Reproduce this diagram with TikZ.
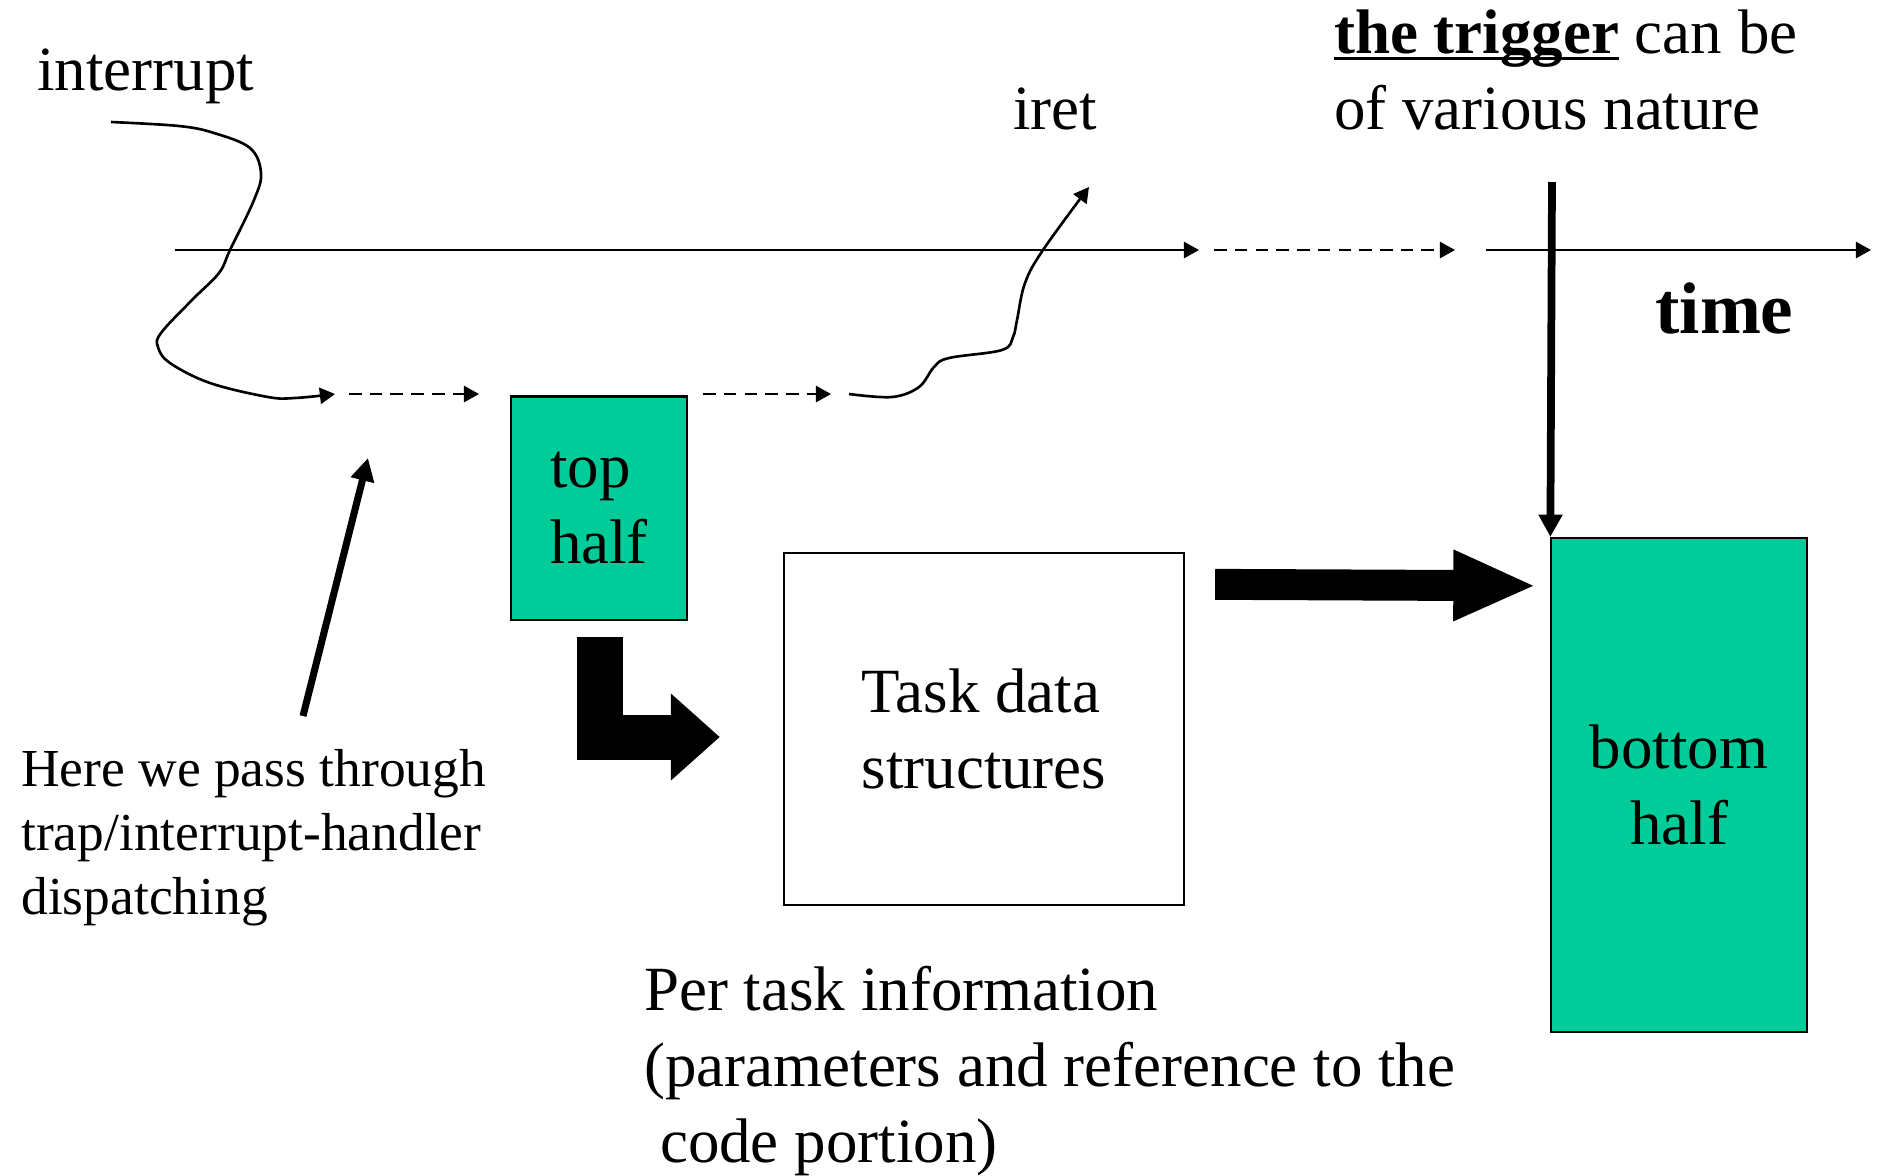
\documentclass[tikz,border=0pt]{standalone}
\usepackage{fontspec}
\setmainfont{Liberation Serif}
\usetikzlibrary{arrows.meta,calc}
\definecolor{halfgreen}{RGB}{0,204,153}
% bold text with a low underline
\newcommand\trigul[1]{\setbox0\hbox{\textbf{#1}}\rlap{\rule[-0.11em]{\wd0}{0.05em}}\box0\relax}

\begin{document}
\begin{tikzpicture}[x=0.01cm, y=-0.01cm, line width=0.75pt, >={Triangle[length=4.3pt,width=4.6pt]},
	big/.style={font=\fontsize{17.9}{21.5}\selectfont},
	txt/.style={big, inner sep=0pt, anchor=base west, align=left},
	halfbox/.style={big, draw, line width=0.6pt, fill=halfgreen, inner sep=0pt},
	dashline/.style={->, dash pattern=on 3.6pt off 2.3pt},
	fat/.style={line width=#1, line join=miter}]
	\useasboundingbox (0,0) rectangle (1878,1175);
	\path (175,250) coordinate (T0) (1199,250) coordinate (T1) (1214,250) coordinate (T2)
	(1455,250) coordinate (T3) (1486,250) coordinate (T4) (1871,250) coordinate (T5)
	(1552,182) coordinate (trig);
	% boxes
	\node[halfbox, minimum width=1.76cm, minimum height=2.23cm, align=left] (tophalf) at (599,508) {top\\half};
	\node[big, draw, line width=0.6pt, minimum width=4cm, minimum height=3.51cm, align=left] (taskdata) at (984,729) {Task data\\structures};
	\node[halfbox, minimum width=2.55cm, minimum height=4.94cm, align=center] (bottomhalf) at (1679,785) {bottom\\ half};
	% labels (base = last line)
	\node[txt] (intr) at (36,90) {interrupt};
	\node[txt] (iret) at (1012,129) {iret};
	\node[txt] (trigger) at (1333,129) {\trigul{the trigger} can be\\of various nature};
	\node[txt, font=\fontsize{20.8}{25}\selectfont\bfseries] (timelbl) at (1654,333) {time};
	\node[txt, font=\fontsize{15.2}{18.2}\selectfont] (passnote) at (20,914) {Here we pass through\\trap/interrupt-handler\\dispatching};
	\node[txt, font=\fontsize{17.9}{21.6}\selectfont] (pertask) at (643,1162) {Per task information\\(parameters and reference to the\\\hspace*{0.25em}code portion)};
	% time line
	\draw[->] (T0)--(T1);
	\draw[dashline] (T2)--(T3);
	\draw[->] (T4)--(T5);
	\foreach \a/\b in {349/479, 703/831}{
	\draw[dashline] (\a,394)--(\b,394);
	}
	% interrupt and iret paths
	\draw[->] plot[smooth, tension=0.6] coordinates {(111,122) (179,126) (214,133) (250,148) (261,173) (254,200) (230,250) (219,273) (192,300) (161,333) (158,347) (170,363) (210,383) (268,397) (295,398) (335,394)};
	\draw[->] plot[smooth, tension=0.6] coordinates {(849,394) (892,397) (919,387) (934,367) (949,358) (1002,350) (1013,337) (1017,320) (1025,283) (1043,250) (1089,187)};
	\draw[->, line width=2.2pt, >={Triangle[length=6.3pt,width=6.5pt]}] (trig)--(bottomhalf.north west);
	\draw[->, line width=2pt, >={Triangle[length=6.5pt,width=6.5pt]}] (303,716)--(368,458);
	% fat arrows
	\draw[fat=12.8pt, -{Triangle[length=0.49cm,width=0.84cm]}] ($(tophalf.south)+(1,16)$) |- ($(taskdata.west)+(-63,8)$);
	\draw[fat=8.8pt, -{Triangle[length=0.83cm,width=0.65cm]}] ($(taskdata.north east)+(30,32)$) -- ($(bottomhalf.north west)+(-14,49)$);
\end{tikzpicture}
\end{document}
